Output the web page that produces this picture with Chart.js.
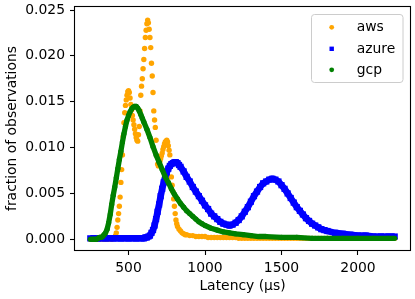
<!DOCTYPE html>
<html>
<head>
<meta charset="utf-8">
<script src="https://cdn.jsdelivr.net/npm/chart.js@4.4.1/dist/chart.umd.min.js"></script>
<style>
  html, body { margin: 0; padding: 0; background: #fff; }
  #latencyChart { display: block; }
</style>
</head>
<body>
<canvas id="latencyChart" width="415" height="299"></canvas>
<script>
// Series names and colours (matplotlib named colours)
const providers = ['aws', 'azure', 'gcp'];
const providerColors = ['orange', 'blue', 'green'];

// aws: latency (µs) and fraction of observations
const awsLatency = [250, 270, 290, 310, 330, 350, 370, 390, 400, 405, 410, 415, 420, 425, 430, 435, 440, 445, 450, 455,
  460, 465, 470, 475, 480, 485, 490, 495, 500, 505, 510, 515, 520, 525, 530, 535, 540, 545, 550, 555,
  560, 565, 570, 575, 580, 585, 590, 595, 600, 605, 610, 615, 620, 625, 630, 635, 640, 645, 650, 655,
  660, 665, 670, 675, 680, 685, 690, 695, 700, 705, 710, 715, 720, 725, 730, 735, 740, 745, 750, 755,
  760, 765, 770, 775, 780, 785, 790, 795, 800, 805, 810, 815, 820, 830, 840, 850, 860, 870, 880, 900,
  920, 940, 960, 980, 1000, 1020, 1040, 1060, 1080, 1100, 1120, 1140, 1160, 1180, 1200, 1220, 1240, 1260, 1280, 1300,
  1320, 1340, 1360, 1380, 1400, 1420, 1440, 1460, 1480, 1500, 1520, 1540, 1560, 1580, 1600, 1620, 1640, 1660, 1680, 1700,
  1720, 1740, 1760, 1780, 1800, 1820, 1840, 1860, 1880, 1900, 1920, 1940, 1960, 1980, 2000, 2020, 2040, 2060, 2080, 2100,
  2120, 2140, 2160, 2180, 2200, 2220, 2240];
const awsFraction = [0, 0, 0, 0, 0, 0, 0, 0, 0.0001, 0.0001, 0.0002, 0.0004, 0.0007, 0.0013, 0.0021, 0.0028, 0.0036, 0.0046, 0.0062, 0.0076,
  0.0092, 0.0112, 0.0127, 0.0138, 0.0146, 0.0152, 0.0157, 0.0161, 0.0162, 0.0160, 0.0154, 0.0147, 0.0141, 0.0135, 0.0130, 0.0125, 0.0120, 0.0115, 0.0111, 0.0108,
  0.0107, 0.0114, 0.0123, 0.0140, 0.0157, 0.0167, 0.0175, 0.0186, 0.0196, 0.0208, 0.0220, 0.0228, 0.0235, 0.0239, 0.0236, 0.0229, 0.0220, 0.0209, 0.0192, 0.0178,
  0.0160, 0.0140, 0.0130, 0.0122, 0.0108, 0.0091, 0.0082, 0.0080, 0.0082, 0.0085, 0.0088, 0.0091, 0.0094, 0.0098, 0.0101, 0.0104, 0.0106, 0.0107, 0.0108, 0.0106,
  0.0102, 0.0097, 0.0092, 0.0080, 0.0068, 0.0059, 0.0052, 0.0044, 0.0036, 0.0028, 0.0021, 0.0017, 0.0014, 0.0011, 0.0009, 0.0007, 0.0006, 0.0005, 0.0005, 0.0004,
  0.0004, 0.0003, 0.0003, 0.0003, 0.0003, 0.0002, 0.0002, 0.0002, 0.0002, 0.0002, 0.0002, 0.0002, 0.0002, 0.0002, 0.0002, 0.0001, 0.0001, 0.0001, 0.0001, 0.0001,
  0.0001, 0.0001, 0.0001, 0.0001, 0.0001, 0.0001, 0.0001, 0.0001, 0.0001, 0.0001, 0.0001, 0.0001, 0.0001, 0.0001, 0.0001, 0.0001, 0.0001, 0.0001, 0.0001, 0.0001,
  0.0001, 0.0001, 0.0001, 0.0001, 0.0001, 0.0001, 0.0001, 0.0001, 0.0001, 0.0001, 0.0001, 0.0001, 0.0001, 0.0001, 0.0001, 0.0001, 0.0001, 0.0001, 0.0001, 0.0001,
  0.0001, 0.0001, 0.0001, 0.0001, 0.0001, 0.0001, 0.0001];

// azure
const azureLatency = [250, 300, 350, 400, 450, 500, 550, 600, 610, 620, 630, 640, 650, 660, 670, 680, 690, 700, 710, 720,
  730, 740, 750, 760, 770, 780, 790, 800, 810, 820, 830, 840, 860, 880, 900, 920, 940, 960, 980, 1000,
  1020, 1040, 1060, 1080, 1100, 1120, 1140, 1160, 1180, 1200, 1220, 1240, 1260, 1280, 1300, 1320, 1340, 1360, 1380, 1400,
  1420, 1440, 1460, 1480, 1500, 1520, 1540, 1560, 1580, 1600, 1620, 1640, 1660, 1680, 1700, 1720, 1740, 1760, 1780, 1800,
  1850, 1900, 1950, 2000, 2050, 2100, 2150, 2200, 2240];
const azureFraction = [0.0001, 0.0001, 0.0001, 0.0001, 0.0001, 0.0001, 0.0001, 0.0001, 0.0002, 0.0002, 0.0003, 0.0004, 0.0007, 0.0010, 0.0015, 0.0022, 0.0030, 0.0038, 0.0047, 0.0055,
  0.0062, 0.0068, 0.0073, 0.0077, 0.0080, 0.0082, 0.0083, 0.0084, 0.0084, 0.0083, 0.0081, 0.0079, 0.0074, 0.0068, 0.0063, 0.0057, 0.0052, 0.0047, 0.0042, 0.0037,
  0.0033, 0.0028, 0.0025, 0.0022, 0.0019, 0.0017, 0.0016, 0.0015, 0.0016, 0.0018, 0.0021, 0.0025, 0.0030, 0.0035, 0.0041, 0.0047, 0.0052, 0.0057, 0.0061, 0.0063,
  0.0065, 0.0066, 0.0065, 0.0063, 0.0059, 0.0055, 0.0050, 0.0045, 0.0040, 0.0035, 0.0031, 0.0027, 0.0023, 0.0020, 0.0017, 0.0015, 0.0013, 0.0011, 0.0010, 0.0009,
  0.0007, 0.0006, 0.0005, 0.0004, 0.0004, 0.0003, 0.0003, 0.0003, 0.0003];

// gcp
const gcpLatency = [250, 270, 290, 300, 310, 320, 330, 340, 350, 360, 370, 380, 390, 400, 410, 420, 430, 440, 450, 460,
  470, 480, 490, 500, 510, 520, 530, 540, 550, 560, 570, 580, 590, 600, 620, 640, 660, 680, 700, 720,
  740, 760, 780, 800, 820, 840, 860, 880, 900, 920, 940, 960, 980, 1000, 1040, 1080, 1120, 1160, 1200, 1250,
  1300, 1350, 1400, 1500, 1600, 1700, 1800, 1900, 2000, 2100, 2200, 2240];
const gcpFraction = [0, 0, 0, 0.0001, 0.0002, 0.0002, 0.0003, 0.0005, 0.0007, 0.0011, 0.0018, 0.0027, 0.0038, 0.0048, 0.0057, 0.0067, 0.0077, 0.0087, 0.0096, 0.0106,
  0.0115, 0.0123, 0.0130, 0.0135, 0.0139, 0.0142, 0.0144, 0.0145, 0.0145, 0.0143, 0.0140, 0.0136, 0.0132, 0.0128, 0.0120, 0.0111, 0.0101, 0.0092, 0.0084, 0.0076,
  0.0068, 0.0062, 0.0055, 0.0049, 0.0044, 0.0039, 0.0035, 0.0031, 0.0028, 0.0025, 0.0022, 0.0019, 0.0017, 0.0015, 0.0012, 0.0010, 0.0008, 0.0007, 0.0006, 0.0005,
  0.0004, 0.0003, 0.0003, 0.0002, 0.0002, 0.0001, 0.0001, 0.0001, 0.0001, 0.0001, 0.0001, 0.0001];

// Axis ticks
const xTicks = [500, 1000, 1500, 2000];
const yTicks = [0, 0.005, 0.010, 0.015, 0.020, 0.025];

function toPoints(xs, ys) {
  return xs.map(function(x, i) { return { x: x, y: ys[i] }; });
}

Chart.defaults.font.family = '"DejaVu Sans", sans-serif';
Chart.defaults.font.size = 13.9;
Chart.defaults.color = '#000';

// Frame on all four sides plus a matplotlib-like legend box in the upper right
const frameAndLegend = {
  id: 'frameAndLegend',
  afterDraw: function(chart) {
    const ctx = chart.ctx;
    const a = chart.chartArea;
    ctx.save();
    ctx.strokeStyle = '#000';
    ctx.lineWidth = 1.1;
    ctx.strokeRect(a.left - 0.5, a.top - 0.5, a.right - a.left + 1, a.bottom - a.top + 1);

    // legend frame
    const bx = 311.5, by = 14.5, bw = 91.5, bh = 68, r = 3;
    ctx.beginPath();
    ctx.moveTo(bx + r, by);
    ctx.arcTo(bx + bw, by, bx + bw, by + bh, r);
    ctx.arcTo(bx + bw, by + bh, bx, by + bh, r);
    ctx.arcTo(bx, by + bh, bx, by, r);
    ctx.arcTo(bx, by, bx + bw, by, r);
    ctx.closePath();
    ctx.fillStyle = 'rgba(255,255,255,0.8)';
    ctx.fill();
    ctx.strokeStyle = '#cccccc';
    ctx.lineWidth = 1;
    ctx.stroke();

    const rowY = [27.3, 48.8, 69.8];
    ctx.font = '13.9px "DejaVu Sans", sans-serif';
    ctx.textBaseline = 'alphabetic';
    ctx.textAlign = 'left';
    chart.data.datasets.forEach(function(ds, i) {
      const y = rowY[i];
      ctx.fillStyle = ds.pointBackgroundColor;
      if (ds.pointStyle === 'rect') {
        ctx.fillRect(331.7 - 2.2, y - 2.2, 4.4, 4.4);
      } else {
        ctx.beginPath();
        ctx.arc(331.7, y, 2.4, 0, Math.PI * 2);
        ctx.fill();
      }
      ctx.fillStyle = '#000';
      ctx.fillText(ds.label, 356.7, y + 3.8);
    });
    ctx.restore();
  }
};

new Chart(document.getElementById('latencyChart'), {
  type: 'scatter',
  data: {
    datasets: [
      {
        label: providers[0],
        data: toPoints(awsLatency, awsFraction),
        showLine: false,
        pointStyle: 'circle',
        pointRadius: 2.7,
        pointBorderWidth: 0,
        pointBackgroundColor: providerColors[0],
        order: 3
      },
      {
        label: providers[1],
        data: toPoints(azureLatency, azureFraction),
        showLine: true,
        borderColor: providerColors[1],
        borderWidth: 6.6,
        borderJoinStyle: 'round',
        pointStyle: 'rect',
        pointRadius: 4.4,
        pointBorderWidth: 0,
        pointBackgroundColor: providerColors[1],
        order: 2
      },
      {
        label: providers[2],
        data: toPoints(gcpLatency, gcpFraction),
        showLine: true,
        borderColor: providerColors[2],
        borderWidth: 5.3,
        borderJoinStyle: 'round',
        pointStyle: 'circle',
        pointRadius: 2.6,
        pointBorderWidth: 0,
        pointBackgroundColor: providerColors[2],
        order: 1
      }
    ]
  },
  options: {
    responsive: false,
    animation: false,
    events: [],
    layout: { padding: { top: 7, right: 5, left: 0, bottom: 0 } },
    plugins: {
      legend: { display: false },
      tooltip: { enabled: false }
    },
    scales: {
      x: {
        type: 'linear',
        min: 150,
        max: 2340,
        border: { display: false },
        grid: { drawOnChartArea: false, drawTicks: true, tickLength: 5, tickColor: '#000', tickWidth: 1.1 },
        ticks: {
          autoSkip: false,
          maxRotation: 0,
          padding: 5,
          callback: function(v) { return String(v); }
        },
        title: { display: true, text: 'Latency (μs)', padding: { top: 0, bottom: 4.5 } },
        afterBuildTicks: function(scale) {
          scale.ticks = xTicks.map(function(v) { return { value: v }; });
        },
        afterFit: function(scale) {
          scale.height = 49;
          scale.paddingLeft = 0;
          scale.paddingRight = 0;
        }
      },
      y: {
        type: 'linear',
        min: -0.00117,
        max: 0.02533,
        border: { display: false },
        grid: { drawOnChartArea: false, drawTicks: true, tickLength: 5, tickColor: '#000', tickWidth: 1.1 },
        ticks: {
          padding: 5,
          callback: function(v) { return v.toFixed(3); }
        },
        title: { display: true, text: 'fraction of observations', padding: { top: 4, bottom: 0 } },
        afterBuildTicks: function(scale) {
          scale.ticks = yTicks.map(function(v) { return { value: v }; });
        },
        afterFit: function(scale) {
          scale.width = 75;
          scale.paddingTop = 0;
          scale.paddingBottom = 0;
        }
      }
    }
  },
  plugins: [frameAndLegend]
});
</script>
</body>
</html>
